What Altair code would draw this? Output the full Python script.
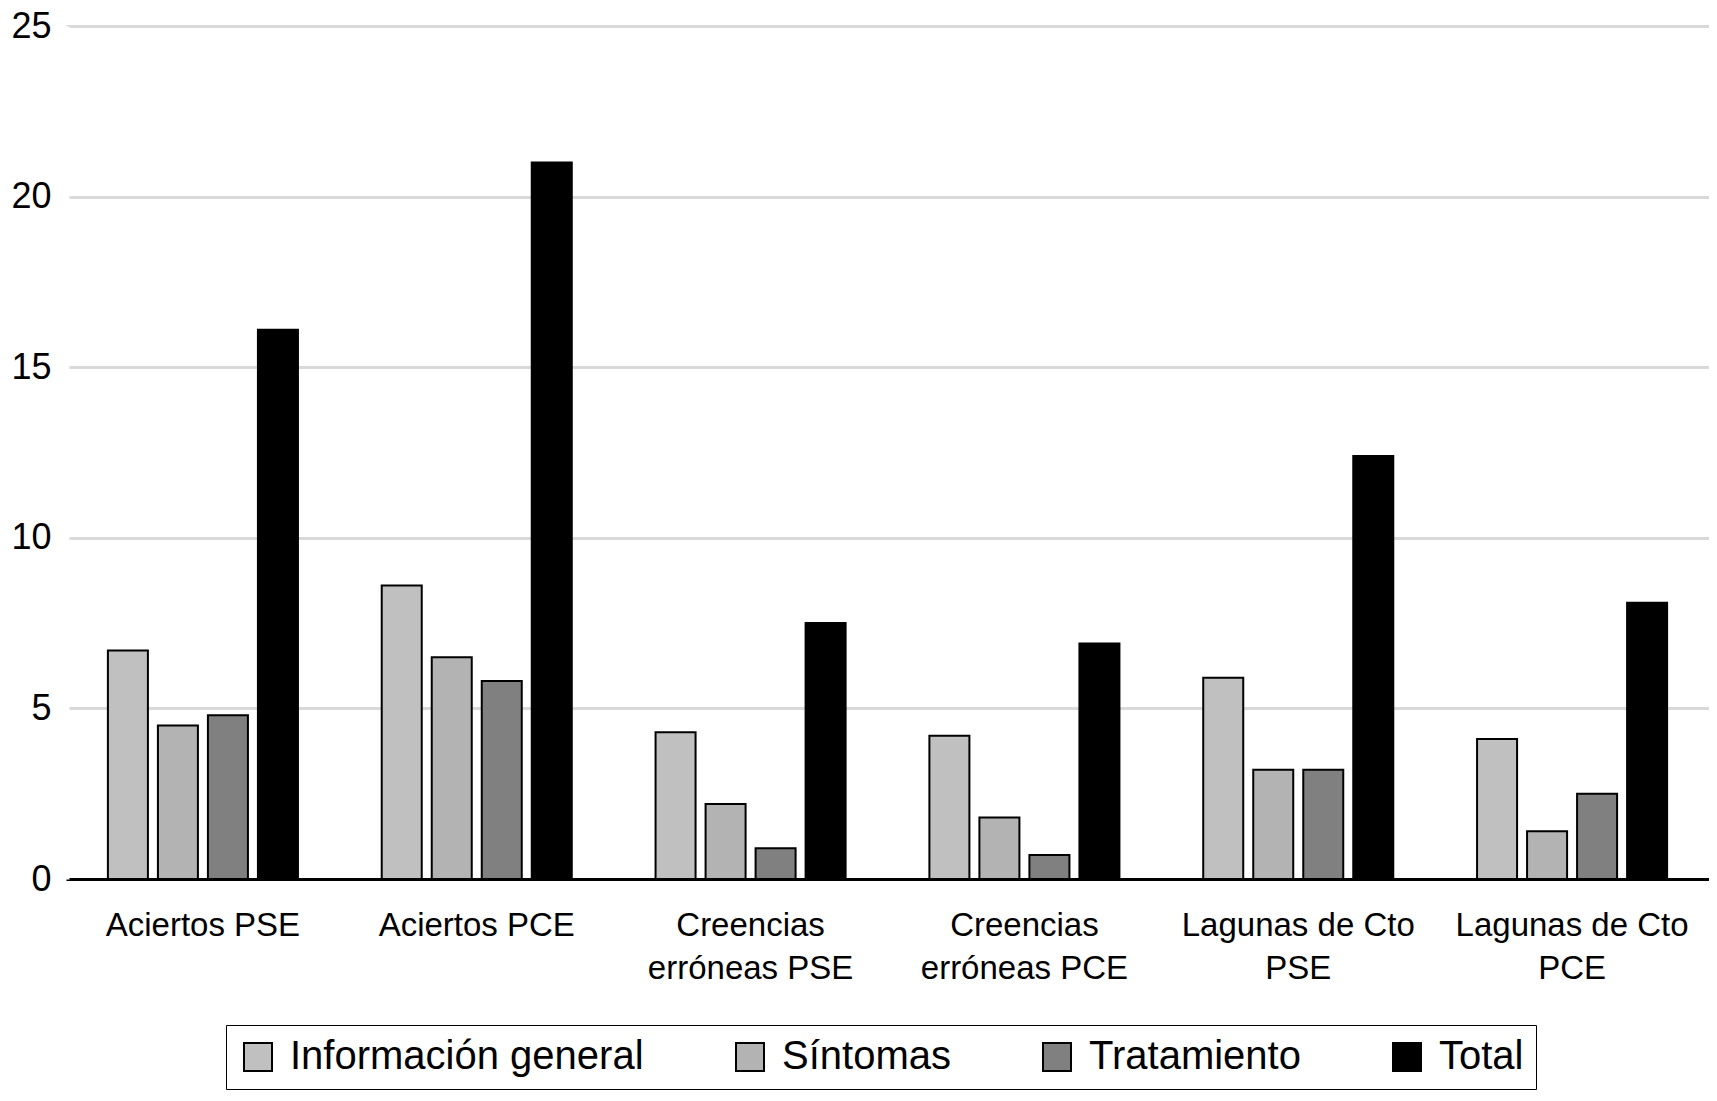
import json
import altair as alt
import pandas as pd

categories = ["Aciertos PSE", "Aciertos PCE", "Creencias erróneas PSE",
              "Creencias erróneas PCE", "Lagunas de Cto PSE", "Lagunas de Cto PCE"]
label_lines = [["Aciertos PSE"], ["Aciertos PCE"], ["Creencias", "erróneas PSE"],
               ["Creencias", "erróneas PCE"], ["Lagunas de Cto", "PSE"], ["Lagunas de Cto", "PCE"]]
series = ["Información general", "Síntomas", "Tratamiento", "Total"]
colors = ["#c0c0c0", "#b3b3b3", "#808080", "#000000"]

info = [6.7, 8.6, 4.3, 4.2, 5.9, 4.1]
sintomas = [4.5, 6.5, 2.2, 1.8, 3.2, 1.4]
tratamiento = [4.8, 5.8, 0.9, 0.7, 3.2, 2.5]
total = [16.1, 21.0, 7.5, 6.9, 12.4, 8.1]

y_ticks = [0, 5, 10, 15, 20, 25]

rows = []
for s, vals in zip(series, [info, sintomas, tratamiento, total]):
    for c, v in zip(categories, vals):
        rows.append({"categoria": c, "serie": s, "valor": v})
df = pd.DataFrame(rows)

expr = ""
for c, lines in zip(categories, label_lines):
    expr += f"datum.value === {json.dumps(c, ensure_ascii=False)} ? {json.dumps(lines, ensure_ascii=False)} : "
expr += "datum.label"

FONT = "Liberation Sans"

chart = alt.Chart(df).mark_bar(stroke="black", strokeWidth=2).encode(
    x=alt.X("categoria:N", sort=categories, title=None,
            scale=alt.Scale(paddingInner=0.306, paddingOuter=0.153),
            axis=alt.Axis(labelAngle=0, labelExpr=expr, labelFontSize=33,
                          labelLineHeight=43, labelPadding=30, labelLimit=400,
                          ticks=False, domain=True, domainColor="black", domainWidth=3,
                          labelColor="black", labelFont=FONT, grid=False)),
    xOffset=alt.XOffset("serie:N", sort=series, scale=alt.Scale(paddingInner=0.2)),
    y=alt.Y("valor:Q", scale=alt.Scale(domain=[0, 25]),
            axis=alt.Axis(values=y_ticks, title=None, domain=True, domainColor="white",
                          domainWidth=6, ticks=False, zindex=0,
                          grid=True, gridColor="#d9d9d9", gridWidth=3, labelFontSize=36,
                          labelPadding=15, labelColor="black", labelFont=FONT)),
    color=alt.Color("serie:N", sort=series,
                    scale=alt.Scale(domain=series, range=colors),
                    legend=alt.Legend(title=None, orient="none", legendX=160, legendY=999,
                                      direction="horizontal", symbolType="square",
                                      symbolSize=784, symbolStrokeColor="black",
                                      symbolStrokeWidth=2, symbolOpacity=1,
                                      labelFontSize=40, labelOffset=12, columnPadding=86,
                                      padding=12, strokeColor="black", labelColor="black",
                                      labelFont=FONT, labelLimit=500)),
    tooltip=["categoria", "serie", "valor"],
).properties(
    width=1643, height=853,
    autosize=alt.AutoSizeParams(type="none"),
    padding={"left": 58, "top": 18, "right": 0, "bottom": 213},
).configure_view(
    stroke=None
).configure(font=FONT)

chart.save("out.html", embed_options={"renderer": "svg", "actions": False})
